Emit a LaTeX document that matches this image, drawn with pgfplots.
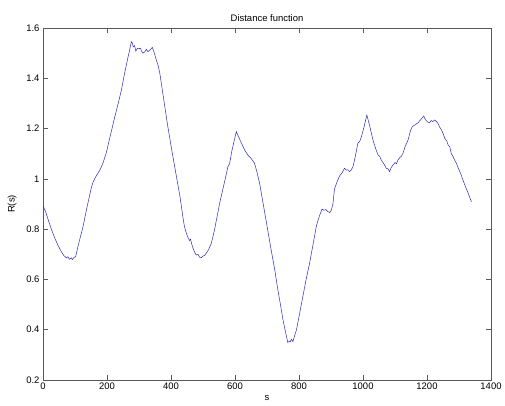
\documentclass[border=0pt]{standalone}
\usepackage{fontspec}
\setmainfont{Liberation Sans}
\usepackage{pgfplots}
\pgfplotsset{compat=1.18}
\definecolor{linecol}{RGB}{40,40,190}
\begin{document}
\begin{tikzpicture}
\begin{axis}[
  scale only axis,
  width=448bp, height=352bp,
  xmin=0, xmax=1400, ymin=0.2, ymax=1.6,
  xtick={0,200,...,1400},
  ytick={0.2,0.4,...,1.6},
  yticklabels={0.2,0.4,0.6,0.8,1,1.2,1.4,1.6},
  xticklabels={0,200,400,600,800,1000,1200,1400},
  tick align=inside,
  major tick length=5bp,
  axis line style={gray!70!black, line width=0.5pt},
  tick style={gray!70!black, line width=0.5pt},
  ticklabel style={font=\fontsize{9.5}{11}\selectfont},
  xticklabel style={yshift=1bp},
  title={Distance function},
  title style={font=\fontsize{9.5}{11}\selectfont, yshift=-3bp},
  xlabel={s},
  ylabel={R(s)},
  label style={font=\fontsize{9.5}{11}\selectfont},
  xlabel style={yshift=1bp},
  ylabel style={yshift=3bp},
  /pgf/number format/assume math mode=true,
]
\addplot[color=linecol, line width=0.5pt] coordinates {
(0,0.893) (8,0.87) (16,0.838) (26,0.80) (37,0.764) (47,0.735) (57,0.711) (65,0.695)
(73,0.686) (78,0.690) (83,0.680) (88,0.686) (92,0.679) (97,0.688) (102,0.690)
(110,0.735) (118,0.775) (125,0.81) (138,0.89) (151,0.965) (156,0.985) (162,1.002)
(168,1.015) (177,1.033) (183,1.050) (188,1.065) (198,1.105) (210,1.170) (224,1.245)
(235,1.30) (245,1.353) (255,1.42) (266,1.486) (271,1.513) (276,1.545) (279,1.540)
(282,1.525) (286,1.53) (290,1.508) (295,1.519) (300,1.517) (305,1.520) (307,1.510)
(312,1.500) (318,1.505) (323,1.515) (328,1.506) (334,1.512) (341.7,1.523) (348,1.500)
(354,1.473) (360,1.45) (365,1.42) (378,1.31) (390,1.208) (403,1.11) (417,1.009)
(428,0.93) (437,0.85) (442,0.81) (448,0.784) (452,0.77) (458,0.755) (461,0.760)
(464,0.744) (470,0.72) (475,0.705) (479,0.697) (484,0.70) (490,0.688) (495,0.687)
(500,0.693) (505,0.695) (510,0.704) (518,0.72) (526,0.744) (531,0.77) (536,0.797)
(544,0.85) (552,0.903) (565,0.975) (578,1.049) (583,1.06) (590,1.11) (604,1.188)
(612,1.165) (620,1.142) (630,1.115) (640,1.095) (650,1.082) (661,1.062) (668,1.03)
(677,0.982) (695,0.85) (713,0.717) (724,0.64) (734,0.558) (742,0.50) (750,0.439)
(758,0.39) (765,0.349) (770,0.355) (773,0.352) (776,0.362) (781,0.353) (786,0.375)
(792,0.399) (802,0.465) (812,0.532) (822,0.598) (833,0.664) (844,0.74) (854,0.81)
(858,0.83) (862,0.845) (866,0.86) (872,0.88) (878,0.875) (884,0.878) (890,0.870)
(896,0.866) (901,0.876) (906,0.90) (911,0.96) (918,0.985) (927,1.012) (935,1.025)
(942,1.042) (948,1.035) (953,1.036) (958,1.029) (963,1.035) (969,1.049) (976,1.09)
(984,1.142) (990,1.150) (995,1.168) (1003,1.205) (1012,1.254) (1020,1.215) (1031,1.155)
(1036,1.135) (1041,1.115) (1047,1.095) (1052,1.09) (1057,1.075) (1065,1.06) (1073,1.042)
(1078,1.040) (1083,1.029) (1088,1.045) (1094,1.055) (1100,1.065) (1105,1.060) (1109,1.075)
(1115,1.085) (1120,1.09) (1125,1.102) (1132,1.13) (1141,1.155) (1148,1.19) (1154,1.208)
(1163,1.215) (1172,1.223) (1180,1.235) (1190,1.25) (1194,1.238) (1198,1.231) (1203,1.225)
(1208,1.223) (1213,1.232) (1218,1.228) (1224,1.234) (1229,1.228) (1234,1.221) (1240,1.205)
(1245,1.195) (1250,1.181) (1256,1.16) (1262,1.150) (1266,1.135) (1271,1.128) (1276,1.10)
(1281,1.09) (1286,1.075) (1292,1.062) (1297,1.045) (1302,1.03) (1307,1.015) (1312,0.996)
(1320,0.97) (1328,0.945) (1334,0.925) (1339,0.909)
};
\end{axis}
\pgfresetboundingbox
\path ([xshift=-43bp,yshift=-26bp]current axis.south west) rectangle ([xshift=14bp,yshift=28bp]current axis.north east);
\end{tikzpicture}
\end{document}
